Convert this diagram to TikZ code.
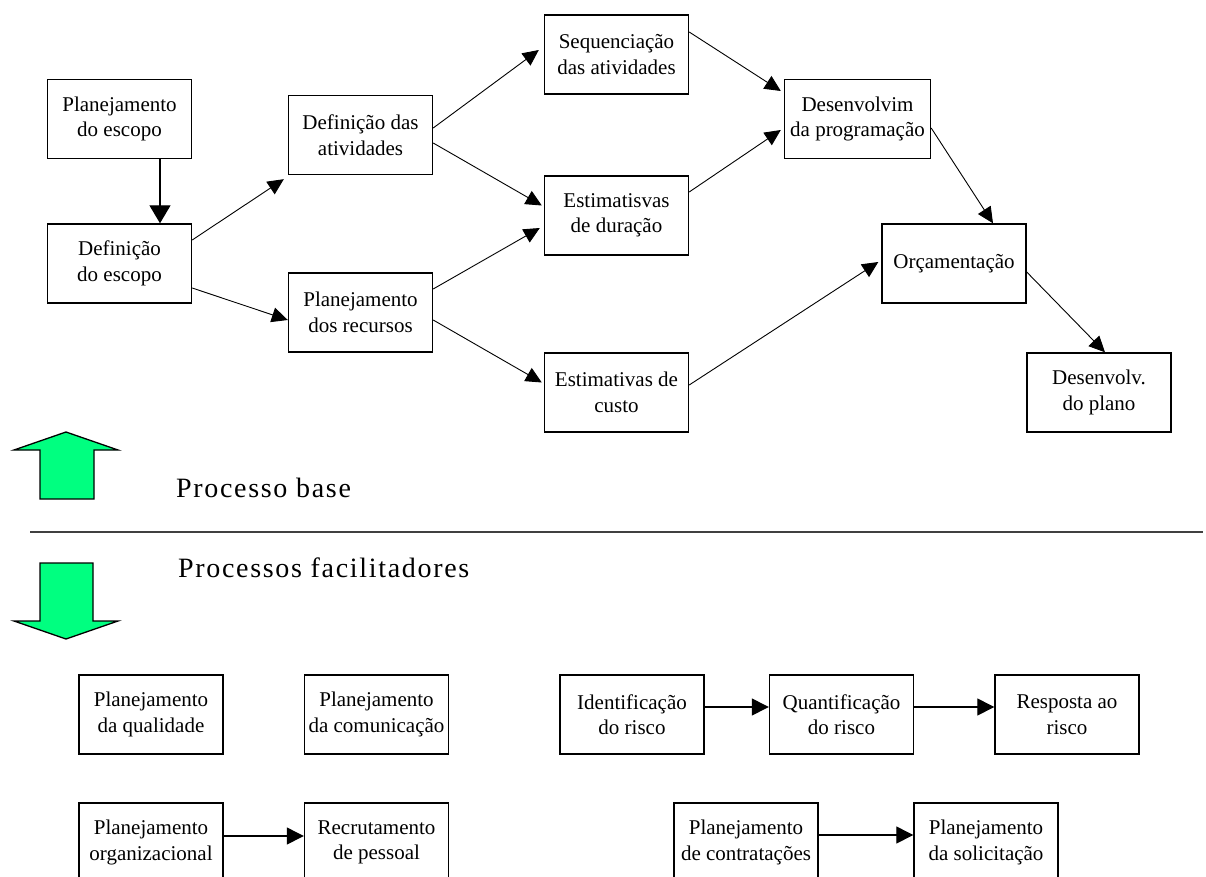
\documentclass[tikz,border=0pt]{standalone}
\usepackage{fontspec}
\setmainfont{Liberation Serif}
\newfontfamily\bandfont{Liberation Serif}[LetterSpace=6]
\usetikzlibrary{arrows.meta,calc}
\definecolor{bandgreen}{RGB}{0,255,128}
\definecolor{rulegray}{RGB}{64,64,64}
\tikzset{
  procbox/.style={draw, line width=1.4pt, minimum width=144pt, minimum height=79pt,
    inner sep=0pt, align=center, font=\fontsize{21}{25.5}\selectfont},
  flow/.style={line width=0.9pt, -{Triangle[length=16pt,width=15pt]}},
  bigflow/.style={line width=1.3pt, -{Triangle[length=18pt,width=21pt]}},
  sideflow/.style={line width=1.3pt, -{Triangle[length=17pt,width=17pt]}},
  bandarrow/.style={draw, line width=1.3pt, fill=bandgreen, line join=miter},
  bandlabel/.style={font=\fontsize{28}{32}\bandfont, anchor=base west, inner sep=0pt}
}
\begin{document}
\begin{tikzpicture}[x=1pt,y=-1pt]
\useasboundingbox (0,0) rectangle (1206,877);
\fill[white] (0,0) rectangle (1206,877);

% core planning processes
\node[procbox] (pe)  at (119.5,119)   {Planejamento\\do escopo};
\node[procbox] (de)  at (119.5,263.5) {Definição\\do escopo};
\node[procbox] (da)  at (360.5,135)   {Definição das\\atividades};
\node[procbox] (pr)  at (360.5,312.5) {Planejamento\\dos recursos};
\node[procbox] (seq) at (616.5,54.5)  {Sequenciação\\das atividades};
\node[procbox] (ed)  at (616.5,215.5) {Estimatisvas\\de duração};
\node[procbox] (ec)  at (616.5,392.5) {Estimativas de\\custo};
\node[procbox, minimum width=146pt] (dp) at (857.5,119) {Desenvolvim\\da programação};
\node[procbox] (orc) at (954,263.5)   {Orçamentação};
\node[procbox] (dpl) at (1099,392.5)  {Desenvolv.\\do plano};

% core flow
\draw[bigflow] ($(pe.south)+(40.5,0)$) -- ($(de.north)+(40.5,0)$);
\draw[flow] ($(de.east)+(0,-23.5)$) -- ($(da.south west)+(-4,4)$);
\draw[flow] ($(de.east)+(0,24.5)$)  -- ($(pr.west)+(0,7.5)$);
\draw[flow] ($(da.east)+(0,-7)$)    -- ($(seq.west)+(-5,-4.5)$);
\draw[flow] ($(da.east)+(0,8)$)     -- ($(ed.west)+(-2,-10)$);
\draw[flow] ($(pr.east)+(0,-23.5)$) -- ($(ed.west)+(-4,12.5)$);
\draw[flow] ($(pr.east)+(0,7.5)$)   -- ($(ec.west)+(-2,-10)$);
\draw[flow] ($(seq.east)+(0,-22.5)$) -- ($(dp.west)+(-3,-28)$);
\draw[flow] ($(ed.east)+(0,-23.5)$) -- ($(dp.west)+(-3,11)$);
\draw[flow] ($(dp.east)+(0,9)$)     -- ($(orc.north)+(39,0)$);
\draw[flow] ($(ec.east)+(0,-7.5)$)  -- ($(orc.west)+(-3,-1.5)$);
\draw[flow] ($(orc.east)+(0,8.5)$)  -- ($(dpl.north)+(6,0)$);

% legend arrows and divider
\path[bandarrow] (40,499) -- (40,450) -- (14,450) -- (66,432) -- (118,450)
  -- (94,450) -- (94,499) -- cycle;
\path[bandarrow] (40,563) -- (93,563) -- (93,621) -- (118,621) -- (66,639)
  -- (14,621) -- (40,621) -- cycle;
\node[bandlabel] (baselbl) at (176,497) {Processo base};
\node[bandlabel] (faclbl)  at (178,577) {Processos facilitadores};
\coordinate (divl) at (30,532);
\coordinate (divr) at (1203,532);
\draw[rulegray, line width=2pt] (divl) -- (divr);

% facilitating processes
\node[procbox] (pq)  at (151,714.5)   {Planejamento\\da qualidade};
\node[procbox] (pc)  at (376.5,714.5) {Planejamento\\da comunicação};
\node[procbox] (idr) at (632,714.5)   {Identificação\\do risco};
\node[procbox] (qr)  at (841.5,714.5) {Quantificação\\do risco};
\node[procbox] (rr)  at (1067,714.5)  {Resposta ao\\risco};
\node[procbox] (po)  at (151,842.5)   {Planejamento\\organizacional};
\node[procbox] (rp)  at (376.5,842.5) {Recrutamento\\de pessoal};
\node[procbox] (pct) at (746,842.5)   {Planejamento\\de contratações};
\node[procbox] (ps)  at (986,842.5)   {Planejamento\\da solicitação};

\draw[sideflow] ($(idr.east)+(0,-7.5)$) -- ($(qr.west)+(0,-7.5)$);
\draw[sideflow] ($(qr.east)+(0,-7.5)$)  -- ($(rr.west)+(0,-7.5)$);
\draw[sideflow] ($(po.east)+(0,-6.5)$)  -- ($(rp.west)+(0,-6.5)$);
\draw[sideflow] ($(pct.east)+(0,-7.5)$) -- ($(ps.west)+(0,-7.5)$);
\end{tikzpicture}
\end{document}
